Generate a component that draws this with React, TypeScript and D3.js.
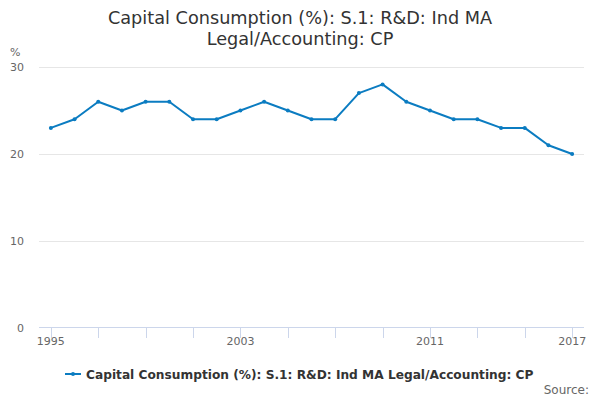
import { useRef, useEffect } from "react";
import * as d3 from "d3";

const years = [1995, 1996, 1997, 1998, 1999, 2000, 2001, 2002, 2003, 2004, 2005, 2006, 2007, 2008, 2009, 2010, 2011, 2012, 2013, 2014, 2015, 2016, 2017];
const values = [23, 24, 26, 25, 26, 26, 24, 24, 25, 26, 25, 24, 24, 27, 28, 26, 25, 24, 24, 23, 23, 21, 20];
const yTicks = [0, 10, 20, 30];
const xTicks = [1995, 1997, 1999, 2001, 2003, 2005, 2007, 2009, 2011, 2013, 2015, 2017];
const xLabels = [1995, 2003, 2011, 2017];
const titleLines = ["Capital Consumption (%): S.1: R&D: Ind MA", "Legal/Accounting: CP"];
const seriesName = "Capital Consumption (%): S.1: R&D: Ind MA Legal/Accounting: CP";

const W = 600;
const H = 400;
const font = "'DejaVu Sans', sans-serif";
const lineColor = "#0b7cc1";

export default function App() {
  const svgRef = useRef(null);

  useEffect(() => {
    const svg = d3.select(svgRef.current);
    svg.selectAll("*").remove();

    const x = d3.scaleLinear().domain([1994.5, 2017.5]).range([39, 584]);
    const y = d3.scaleLinear().domain([0, 30]).range([328, 67]);

    svg.append("rect").attr("width", W).attr("height", H).attr("fill", "#fff");

    // title
    svg
      .append("g")
      .selectAll("text")
      .data(titleLines)
      .join("text")
      .attr("x", W / 2)
      .attr("y", (d, i) => 24 + i * 21)
      .attr("text-anchor", "middle")
      .attr("font-family", font)
      .attr("font-size", 17.7)
      .attr("fill", "#333")
      .text((d) => d);

    // grid
    svg
      .append("g")
      .selectAll("line")
      .data(yTicks.filter((t) => t > 0))
      .join("line")
      .attr("x1", 39)
      .attr("x2", 584)
      .attr("y1", (d) => Math.round(y(d)) + 0.5)
      .attr("y2", (d) => Math.round(y(d)) + 0.5)
      .attr("stroke", "#e6e6e6");

    svg
      .append("g")
      .selectAll("text")
      .data(yTicks)
      .join("text")
      .attr("x", 24)
      .attr("y", (d) => y(d) + 4)
      .attr("text-anchor", "end")
      .attr("font-family", font)
      .attr("font-size", 11)
      .attr("fill", "#666")
      .text((d) => d);

    svg
      .append("text")
      .attr("x", 10)
      .attr("y", 56)
      .attr("font-family", font)
      .attr("font-size", 11)
      .attr("fill", "#666")
      .text("%");

    // x axis
    svg
      .append("line")
      .attr("x1", 39)
      .attr("x2", 584)
      .attr("y1", 327.5)
      .attr("y2", 327.5)
      .attr("stroke", "#ccd6eb");

    svg
      .append("g")
      .selectAll("line")
      .data(xTicks)
      .join("line")
      .attr("x1", (d) => Math.round(x(d)) + 0.5)
      .attr("x2", (d) => Math.round(x(d)) + 0.5)
      .attr("y1", 328)
      .attr("y2", 338)
      .attr("stroke", "#ccd6eb");

    svg
      .append("g")
      .selectAll("text")
      .data(xLabels)
      .join("text")
      .attr("x", (d) => x(d))
      .attr("y", 345)
      .attr("text-anchor", "middle")
      .attr("font-family", font)
      .attr("font-size", 11)
      .attr("fill", "#666")
      .text((d) => d);

    // series
    const line = d3
      .line<number>()
      .x((d, i) => x(years[i]))
      .y((d) => y(d));

    svg
      .append("path")
      .attr("d", line(values))
      .attr("fill", "none")
      .attr("stroke", lineColor)
      .attr("stroke-width", 2)
      .attr("stroke-linejoin", "round");

    svg
      .append("g")
      .selectAll("circle")
      .data(values)
      .join("circle")
      .attr("cx", (d, i) => x(years[i]))
      .attr("cy", (d) => y(d))
      .attr("r", 2)
      .attr("fill", lineColor);

    // legend
    const lg = svg.append("g");
    lg.append("line")
      .attr("x1", 65)
      .attr("x2", 81)
      .attr("y1", 374)
      .attr("y2", 374)
      .attr("stroke", lineColor)
      .attr("stroke-width", 2);
    lg.append("circle").attr("cx", 73).attr("cy", 374).attr("r", 2).attr("fill", lineColor);
    lg.append("text")
      .attr("x", 86)
      .attr("y", 378.5)
      .attr("font-family", font)
      .attr("font-size", 12.2)
      .attr("font-weight", "bold")
      .attr("fill", "#333")
      .text(seriesName);

    svg
      .append("text")
      .attr("x", 589)
      .attr("y", 394)
      .attr("text-anchor", "end")
      .attr("font-family", font)
      .attr("font-size", 12)
      .attr("fill", "#666")
      .text("Source:");
  }, []);

  return (
    <div style={{ position: "fixed", left: 0, top: 0 }}>
      <svg ref={svgRef} width={W} height={H} style={{ display: "block" }} />
    </div>
  );
}
